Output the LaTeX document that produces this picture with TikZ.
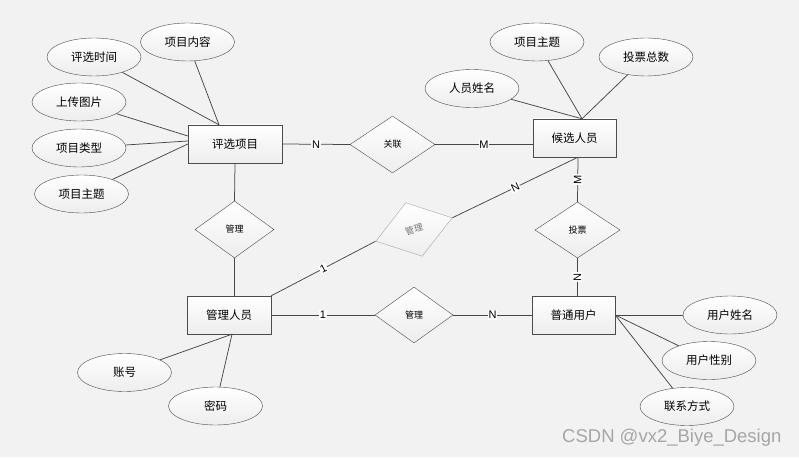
\documentclass[tikz,border=0pt]{standalone}
\usepackage{fontspec}
\setmainfont{Liberation Sans}
\newfontfamily\cjk{Noto Sans CJK SC}
\usetikzlibrary{shapes.geometric}
\definecolor{bg}{HTML}{F2F2F2}

\begin{document}
\begin{tikzpicture}[x=1pt, y=-1pt,
        entity/.style={draw=black!70, rectangle, top color=white, bottom color=black!7, minimum width=84pt, minimum height=38pt, inner sep=0pt, font=\cjk\fontsize{11.5}{13}\selectfont},
        attr/.style={draw=black!70, ellipse, top color=white, bottom color=black!7, minimum width=94pt, minimum height=38pt, inner sep=0pt, font=\cjk\fontsize{11.5}{13}\selectfont},
        rel/.style={draw=black!70, diamond, top color=white, bottom color=black!7, minimum width=84pt, minimum height=56pt, inner sep=0pt, font=\cjk\fontsize{9}{10}\selectfont},
        card/.style={fill=white, inner sep=0.8pt, font=\fontsize{11}{12}\selectfont},
        conn/.style={draw=black!72, line width=0.75pt}]
            \useasboundingbox (0,0) rectangle (799,457);
            \fill[bg] (0,0) rectangle (799,457);

            \node[entity, minimum width=94pt] (item) at (235,144) {评选项目};
            \node[entity, minimum width=83pt] (cand) at (574.5,138) {候选人员};
            \node[entity] (admin) at (229,315) {管理人员};
            \node[entity, minimum width=83pt] (user) at (573.5,315) {普通用户};

            \node[rel, minimum width=85pt, minimum height=57pt] (relate) at (392.5,144.5) {关联};
            \node[rel, minimum width=79pt, minimum height=57pt] (manageA) at (234.5,229.5) {管理};
            \node[rel, minimum width=85pt] (vote) at (577.5,230) {投票};
            \node[rel, minimum width=78pt] (manageC) at (414,315) {管理};
            \node[rel, minimum width=80pt, rotate=17, draw=black!35, text=black!55] (manageB) at (414,229.5) {管理};

            \node[attr] (time) at (94,57) {评选时间};
            \node[attr] (content) at (187.5,42) {项目内容};
            \node[attr] (upload) at (79,102) {上传图片};
            \node[attr] (type) at (79,148) {项目类型};
            \node[attr] (themeA) at (81.5,194) {项目主题};
            \node[attr] (themeB) at (537,42) {项目主题};
            \node[attr] (total) at (646,57) {投票总数};
            \node[attr] (pname) at (472,88.5) {人员姓名};
            \node[attr] (uname) at (730,315) {用户姓名};
            \node[attr] (gender) at (709,360.5) {用户性别};
            \node[attr] (contact) at (687,406.5) {联系方式};
            \node[attr] (account) at (124.5,372.5) {账号};
            \node[attr] (pwd) at (215.5,406) {密码};

            \coordinate (itemtop) at ([xshift=-16pt]item.north);
            \coordinate (candtop) at ([xshift=7.5pt]cand.north);
            \coordinate (candbot) at ([xshift=3.5pt]cand.south);
            \coordinate (adminbot) at ([xshift=3pt]admin.south);

            \draw[conn] (time) -- (itemtop);
            \draw[conn] (content) -- (itemtop);
            \draw[conn] (upload) -- ([yshift=8pt]item.west);
            \draw[conn] (type) -- ([yshift=3pt]item.west);
            \draw[conn] (themeA) -- (item.west);

            \draw[conn] (pname) -- (candtop);
            \draw[conn] (themeB) -- (candtop);
            \draw[conn] (total) -- (candtop);

            \draw[conn] (user.east) -- (uname);
            \draw[conn] (user.east) -- (gender);
            \draw[conn] (user.east) -- (contact);

            \draw[conn] (adminbot) -- (account);
            \draw[conn] (adminbot) -- (pwd);

            \draw[conn] (item.east) -- node[card] {N} (relate.west);
            \draw[conn] (relate.east) -- node[card] {M} (relate.east -| cand.west);
            \draw[conn] (item.south) -- (manageA.north);
            \draw[conn] (manageA.south) -- (manageA.south |- admin.north);
            \draw[conn] (admin.east) -- node[card] {1} (manageC.west);
            \draw[conn] (manageC.east) -- node[card] {N} (user.west);
            \draw[conn] (candbot) -- node[card, sloped] {M} (vote.north);
            \draw[conn] (vote.south) -- node[card, sloped] {N} (vote.south |- user.north);
            \draw[conn] (admin.north east) -- node[card, sloped] {1} (manageB.west);
            \draw[conn] (manageB.east) -- node[card, sloped] {N} (candbot);

            \node[anchor=east, text=black!35, font=\fontsize{18.5}{20}\selectfont] (mark) at (785,438) {CSDN @vx2\_Biye\_Design};
        \end{tikzpicture}
\end{document}
